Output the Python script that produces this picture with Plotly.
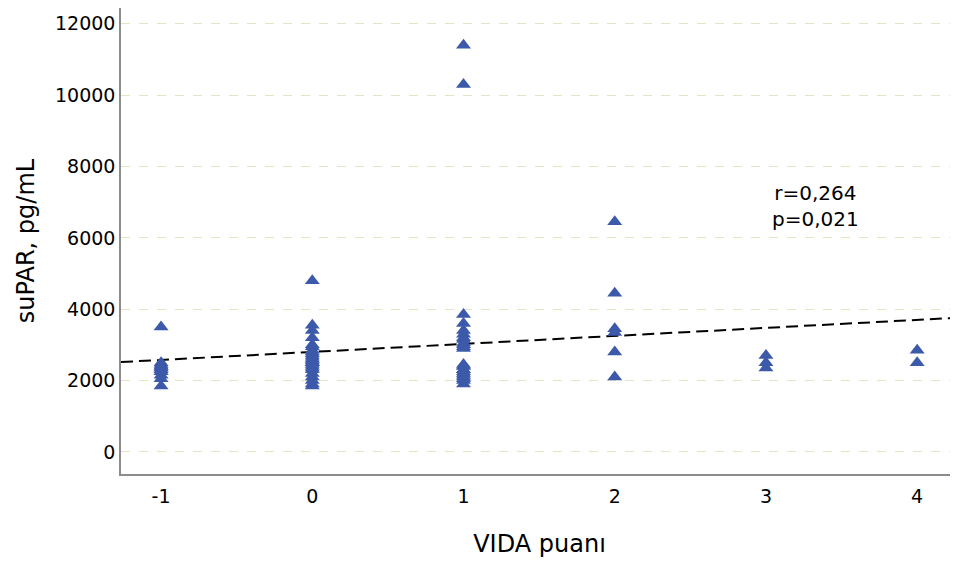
import numpy as np
import plotly.graph_objects as go

# VIDA score (x) and suPAR values (y) (incl. overlapping points)
vida_m1 = [3500, 2500, 2400, 2250, 2150, 2050, 1850, 2450, 2400, 2350, 2300, 2350, 2250]
vida_0 = [4800, 3550, 3400, 3200, 3000, 2850, 2750, 2650, 2500, 2400, 2300, 2200, 2100,
          2000, 1900, 1850, 2950, 2800, 2700, 2600, 2550, 2500, 2450, 2350, 2600, 2500]
vida_1 = [11400, 10300, 3850, 3600, 3400, 3200, 3050, 2900, 2400, 2300, 2200, 2100, 2000,
          1900, 3300, 3150, 3000, 2950, 2300, 2250, 2150, 2050, 2450, 2400]
vida_2 = [6450, 4450, 3450, 3350, 2800, 2100]
vida_3 = [2700, 2500, 2350]
vida_4 = [2850, 2500]

groups = {-1: vida_m1, 0: vida_0, 1: vida_1, 2: vida_2, 3: vida_3, 4: vida_4}
x_vals = []
y_vals = []
for k, vals in groups.items():
    x_vals += [k] * len(vals)
    y_vals += vals

x_ticks = [-1, 0, 1, 2, 3, 4]
y_ticks = [0, 2000, 4000, 6000, 8000, 10000, 12000]
x_range = [-1.265, 4.27]
y_range = [-620, 12444]
stats_text = "r=0,264<br>p=0,021"

slope, intercept = np.polyfit(x_vals, y_vals, 1)
fit_x = np.array(x_range)
fit_y = intercept + slope * fit_x

FONT = "DejaVu Sans"

fig = go.Figure()
fig.add_trace(go.Scatter(
    x=fit_x, y=fit_y, mode="lines",
    line=dict(color="black", width=2, dash="12px,6px"),
    hoverinfo="skip", showlegend=False,
))
fig.add_trace(go.Scatter(
    x=x_vals, y=y_vals, mode="markers",
    marker=dict(symbol="triangle-up", size=13, color="#3d59a9", line=dict(width=0)),
    showlegend=False,
))

fig.add_annotation(x=3.33, y=6900, xref="x", yref="y", text=stats_text,
                   showarrow=False, font=dict(size=20, color="black", family=FONT),
                   align="center")

fig.update_layout(
    width=950, height=555,
    margin=dict(l=113, r=0, t=0, b=89),
    paper_bgcolor="white", plot_bgcolor="white",
    font=dict(family=FONT, color="black"),
)
fig.update_xaxes(
    range=x_range, tickvals=x_ticks, ticktext=[str(v) for v in x_ticks],
    showgrid=False, zeroline=False,
    showline=True, linecolor="#8c8c8c", linewidth=1.5,
    ticks="", tickfont=dict(size=19), ticklabelstandoff=4,
    title=dict(text="VIDA puanı", font=dict(size=24), standoff=30),
)
fig.update_yaxes(
    range=y_range, tickvals=y_ticks, ticktext=[str(v) for v in y_ticks],
    showgrid=True, gridcolor="#e6e2c4", griddash="dash", gridwidth=1,
    zeroline=False,
    showline=True, linecolor="#8c8c8c", linewidth=1.5,
    ticks="", tickfont=dict(size=19),
    title=dict(text="suPAR, pg/mL", font=dict(size=24), standoff=14),
)

fig.write_html("out.html")
